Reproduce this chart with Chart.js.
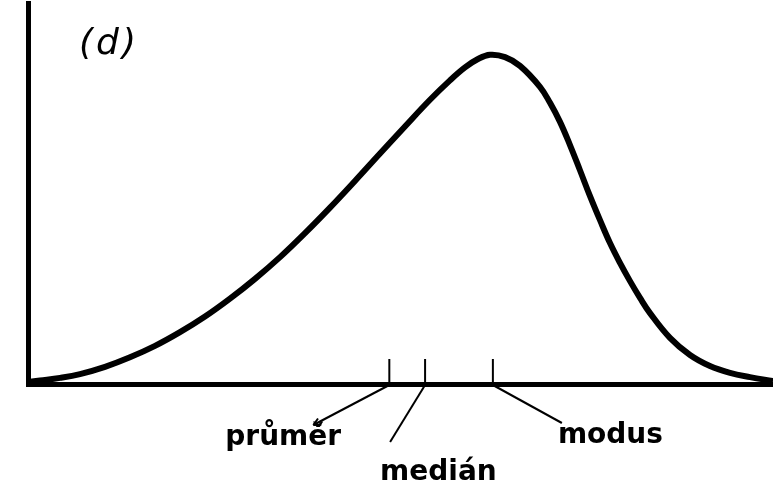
<!DOCTYPE html>
<html>
<head>
<meta charset="utf-8">
<script src="https://cdn.jsdelivr.net/npm/chart.js@4/dist/chart.umd.min.js"></script>
<style>
  html, body { margin: 0; padding: 0; background: #fff; }
  #wrap { width: 773px; height: 490px; }
</style>
</head>
<body>
<div id="wrap"><canvas id="curve"></canvas></div>
<script>
// curve (x: 0..100 along the axis, y: 0..100 up the axis)
const curveX = [0, 1.61, 4.30, 6.98, 10.34, 13.69, 17.05, 20.40, 23.76, 27.11, 30.47, 33.83, 37.18, 40.54, 43.89, 47.25, 50.60, 53.96, 56.64, 58.66, 60.40, 62.01, 64.03, 66.04, 68.72, 70.07, 71.41, 72.75, 74.09, 75.44, 76.78, 78.12, 79.46, 80.81, 82.15, 83.49, 86.17, 88.86, 91.54, 94.23, 96.91, 100];
const curveY = [0.5, 0.9, 1.6, 2.6, 4.5, 7.0, 10.0, 13.6, 17.7, 22.4, 27.6, 33.3, 39.6, 46.3, 53.3, 60.5, 67.6, 74.6, 79.7, 83.1, 85.3, 86.4, 85.8, 83.5, 78.0, 73.8, 68.8, 62.7, 56.1, 49.3, 43.0, 37.0, 31.8, 27.0, 22.6, 18.6, 12.1, 7.6, 4.7, 2.9, 1.8, 0.8];

// průměr, medián, modus
const markerNames = ["průměr", "medián", "modus"];
const markerValues = [48.5, 53.3, 62.4];

const panelLabel = "(d)";

const points = curveX.map((x, i) => ({ x: x, y: curveY[i] }));

// where each label sits relative to its tick (pixels)
const labelLayout = [
  { lineTo: [-76, 41], text: [-164, 61] },
  { lineTo: [-35, 58], text: [-45, 96] },
  { lineTo: [69, 39], text: [65, 59] },
];

const markerPlugin = {
  id: "markers",
  afterDatasetsDraw(chart) {
    const ctx = chart.ctx;
    const xs = chart.scales.x;
    const base = chart.chartArea.bottom;
    ctx.save();
    ctx.strokeStyle = "#000";
    ctx.fillStyle = "#000";
    markerValues.forEach((v, i) => {
      const px = xs.getPixelForValue(v);
      // tick
      ctx.lineWidth = 2;
      ctx.beginPath();
      ctx.moveTo(px, base);
      ctx.lineTo(px, base - 25);
      ctx.stroke();
      // leader line
      const lay = labelLayout[i];
      const ex = px + lay.lineTo[0], ey = base + lay.lineTo[1];
      ctx.lineWidth = 2;
      ctx.beginPath();
      ctx.moveTo(px, base + 1);
      ctx.lineTo(ex, ey);
      ctx.stroke();
      if (i === 0) {
        // small arrow head at the end of the first leader
        const a = Math.atan2(ey - base, ex - px);
        ctx.beginPath();
        ctx.moveTo(ex, ey);
        ctx.lineTo(ex - 8 * Math.cos(a - 0.45), ey - 8 * Math.sin(a - 0.45));
        ctx.moveTo(ex, ey);
        ctx.lineTo(ex - 8 * Math.cos(a + 0.45), ey - 8 * Math.sin(a + 0.45));
        ctx.stroke();
      }
      // label
      ctx.font = "bold 28px 'DejaVu Sans'";
      ctx.textAlign = "left";
      ctx.textBaseline = "alphabetic";
      ctx.fillText(markerNames[i], px + lay.text[0], base + lay.text[1]);
    });
    // panel label
    ctx.font = "italic 36px 'DejaVu Sans'";
    ctx.letterSpacing = "3px";
    ctx.textAlign = "left";
    ctx.textBaseline = "alphabetic";
    ctx.fillText(panelLabel, 79, 54);
    ctx.restore();
  }
};

new Chart(document.getElementById("curve"), {
  type: "line",
  data: {
    datasets: [{
      data: points,
      borderColor: "#000",
      borderWidth: 6,
      pointRadius: 0,
      tension: 0.4,
      fill: false,
    }],
  },
  options: {
    responsive: true,
    maintainAspectRatio: false,
    animation: false,
    layout: { padding: { left: 28, top: 3, right: 0, bottom: 106 } },
    plugins: {
      legend: { display: false },
      tooltip: { enabled: false },
    },
    scales: {
      x: {
        type: "linear",
        min: 0,
        max: 100,
        ticks: { display: false },
        grid: { display: false, drawTicks: false },
        border: { color: "#000", width: 5 },
      },
      y: {
        min: 0,
        max: 100,
        ticks: { display: false },
        grid: { display: false, drawTicks: false },
        border: { color: "#000", width: 5 },
      },
    },
  },
  plugins: [markerPlugin],
});
</script>
</body>
</html>
